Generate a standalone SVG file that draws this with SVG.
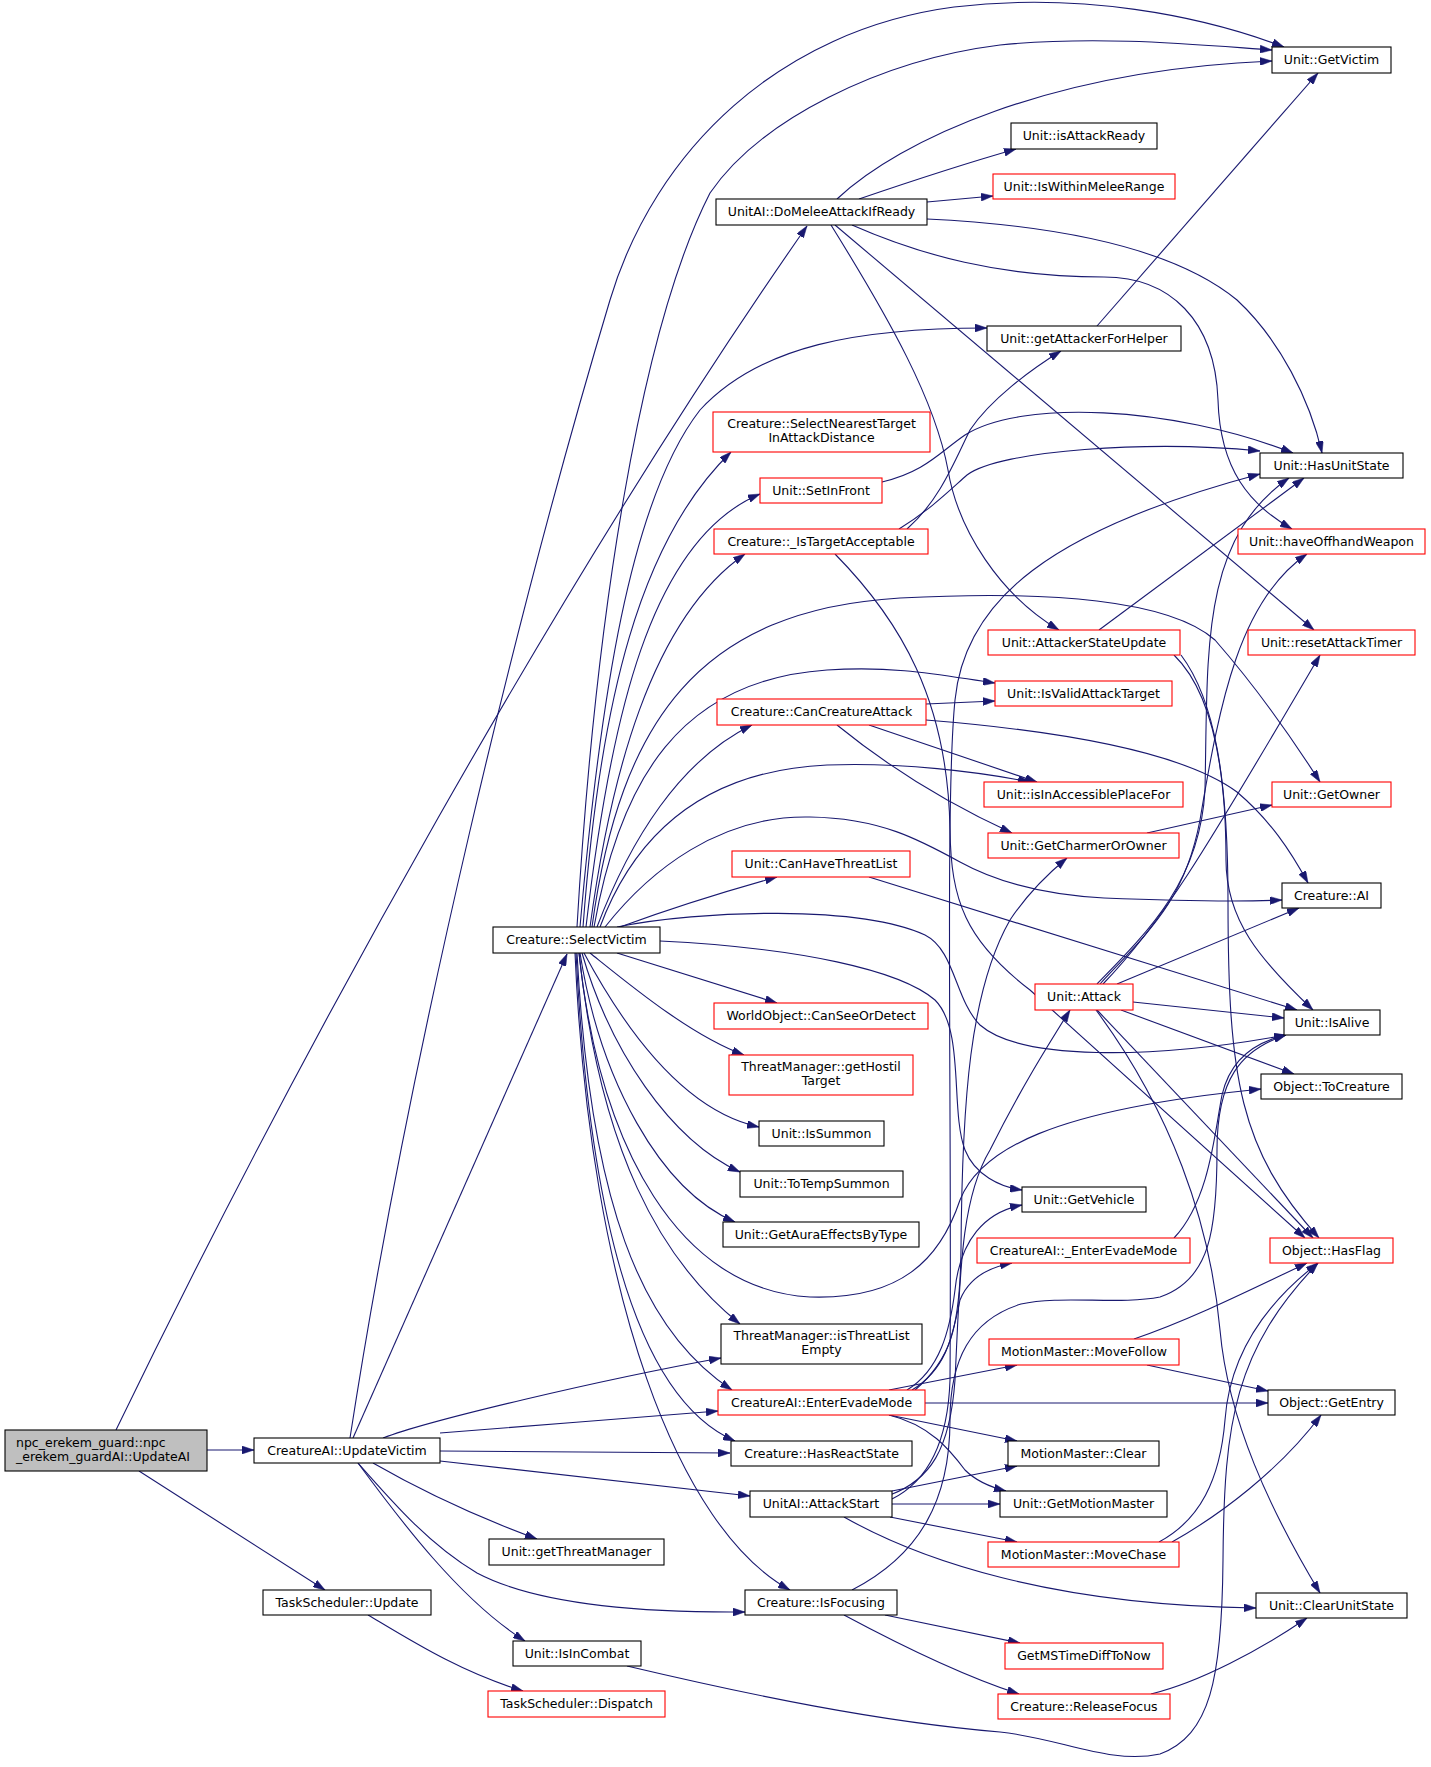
<svg xmlns="http://www.w3.org/2000/svg" width="1431" height="1767" viewBox="0 0 1431 1767">
<style>
.e{fill:none;stroke:#191970;stroke-width:1.1;marker-end:url(#ah)}
.n rect{fill:#fff;stroke:#000;stroke-width:1.1}
.r rect{stroke:#f00}
.g rect{fill:#bfbfbf}
text{font-family:"DejaVu Sans","Liberation Sans",sans-serif;font-size:12.5px;fill:#000;text-anchor:middle}
.l{text-anchor:start}
</style>
<defs>
<marker id="ah" viewBox="0 0 12 8" refX="12" refY="4" markerWidth="12" markerHeight="8" markerUnits="userSpaceOnUse" orient="auto"><path d="M0,0 L12,4 L0,8 z" fill="#191970" stroke="#191970" stroke-width="0.5"/></marker>
</defs>
<rect width="1431" height="1767" fill="#fff"/>
<g id="edges">
<path class="e" d="M207,1450 L254,1450"/>
<path class="e" d="M139,1471 L325,1590"/>
<path class="e" d="M116,1430 C300,1050 560,580 807,226"/>
<path class="e" d="M350,1438 C410,1050 520,600 610,300 C655,150 780,30 954,7 C1080,-8 1200,15 1284,47"/>
<path class="e" d="M353,1438 L567,954"/>
<path class="e" d="M383,1438 C430,1420 600,1380 721,1358"/>
<path class="e" d="M440,1433 C520,1426 640,1418 718,1411"/>
<path class="e" d="M440,1451 L730,1453"/>
<path class="e" d="M440,1461 L750,1496"/>
<path class="e" d="M373,1463 C420,1490 480,1518 537,1539"/>
<path class="e" d="M358,1463 C395,1505 430,1545 477,1573 C530,1601 620,1613 745,1612"/>
<path class="e" d="M358,1463 C400,1520 460,1600 525,1641"/>
<path class="e" d="M368,1615 C410,1640 460,1672 523,1691"/>
<path class="e" d="M837,199 C900,140 1050,70 1272,61"/>
<path class="e" d="M859,199 C900,185 960,165 1016,149"/>
<path class="e" d="M927,202 L993,196"/>
<path class="e" d="M927,219 C1050,225 1170,245 1237,300 C1280,340 1310,400 1322,453"/>
<path class="e" d="M852,225 C920,255 1000,277 1104,277 C1170,277 1215,320 1218,400 C1220,470 1250,505 1292,529"/>
<path class="e" d="M835,225 L1314,630"/>
<path class="e" d="M831,225 C890,320 935,400 948,470 C958,530 1000,595 1059,630"/>
<path class="e" d="M1097,326 L1318,73"/>
<path class="e" d="M577,927 C595,620 640,330 710,193 C760,120 880,60 1000,45 C1100,35 1200,45 1272,50"/>
<path class="e" d="M580,927 C600,700 630,500 700,410 C760,345 860,328 987,328"/>
<path class="e" d="M583,927 C600,700 640,540 731,452"/>
<path class="e" d="M586,927 C610,720 650,540 760,494"/>
<path class="e" d="M590,927 C610,780 650,620 745,554"/>
<path class="e" d="M592,927 C620,720 700,610 900,598 C1050,590 1170,600 1215,640 C1250,680 1290,735 1320,782"/>
<path class="e" d="M594,927 C620,780 680,680 827,670 C900,665 950,677 995,683"/>
<path class="e" d="M597,927 C630,840 680,760 752,725"/>
<path class="e" d="M600,927 C640,820 720,770 827,765 C900,762 980,772 1030,782"/>
<path class="e" d="M605,927 C650,870 720,815 810,817 C880,818 920,840 960,862 C1000,884 1050,895 1104,898 C1180,901 1240,902 1282,900"/>
<path class="e" d="M620,927 C680,905 730,890 777,877"/>
<path class="e" d="M617,927 C700,910 860,905 925,935 C955,950 955,1000 980,1025 C1020,1060 1150,1060 1286,1035"/>
<path class="e" d="M660,941 C800,948 900,970 935,1000 C965,1030 950,1110 965,1150 C975,1175 1000,1187 1022,1190"/>
<path class="e" d="M617,953 L777,1003"/>
<path class="e" d="M590,953 C630,985 690,1035 744,1055"/>
<path class="e" d="M584,953 C620,1020 680,1110 759,1127"/>
<path class="e" d="M582,953 C610,1050 670,1140 740,1172"/>
<path class="e" d="M580,953 C600,1080 660,1190 735,1222"/>
<path class="e" d="M579,953 C600,1150 680,1290 810,1297 C900,1300 940,1260 960,1200 C980,1150 1050,1110 1261,1089"/>
<path class="e" d="M579,953 C600,1150 660,1260 740,1324"/>
<path class="e" d="M577,953 C590,1200 640,1330 732,1390"/>
<path class="e" d="M576,953 C590,1230 640,1400 735,1441"/>
<path class="e" d="M575,953 C590,1300 680,1530 790,1590"/>
<path class="e" d="M882,482 C925,472 940,452 965,435 C1020,400 1170,405 1293,453"/>
<path class="e" d="M899,529 C930,510 950,490 967,475 C1000,450 1150,440 1260,451"/>
<path class="e" d="M907,529 C940,500 955,460 970,430 C990,400 1030,370 1061,351"/>
<path class="e" d="M835,554 C900,620 948,700 950,830 C951,900 965,940 1030,990 L1305,1238"/>
<path class="e" d="M1099,630 L1304,478"/>
<path class="e" d="M1174,655 C1210,690 1226,760 1226,860 C1226,920 1260,960 1313,1010"/>
<path class="e" d="M1181,655 C1215,700 1228,780 1228,900 C1228,1080 1240,1150 1319,1238"/>
<path class="e" d="M926,704 L995,701"/>
<path class="e" d="M869,725 L1037,782"/>
<path class="e" d="M837,725 C880,760 940,800 1012,833"/>
<path class="e" d="M926,720 C1050,730 1180,750 1237,792 C1270,820 1290,850 1308,883"/>
<path class="e" d="M1147,833 L1272,805"/>
<path class="e" d="M869,877 L1297,1010"/>
<path class="e" d="M1097,984 C1150,930 1200,880 1205,790 C1208,650 1200,540 1289,478"/>
<path class="e" d="M1100,984 C1150,930 1185,900 1200,820 C1220,700 1240,600 1307,554"/>
<path class="e" d="M1103,984 C1160,925 1200,860 1320,655"/>
<path class="e" d="M1117,984 L1299,908"/>
<path class="e" d="M1133,1002 L1284,1018"/>
<path class="e" d="M1121,1010 L1294,1074"/>
<path class="e" d="M1097,1010 L1313,1238"/>
<path class="e" d="M1096,1010 C1170,1110 1210,1220 1220,1330 C1228,1420 1270,1510 1320,1593"/>
<path class="e" d="M890,1495 C930,1480 950,1450 955,1380 C960,1280 960,1200 990,1150 C1020,1090 1045,1050 1070,1010"/>
<path class="e" d="M892,1499 C930,1480 948,1440 950,1380 C952,1100 945,800 955,700 C965,600 1050,530 1260,474"/>
<path class="e" d="M892,1491 L1017,1466"/>
<path class="e" d="M892,1504 L1000,1504"/>
<path class="e" d="M890,1517 L1017,1542"/>
<path class="e" d="M844,1517 C920,1560 1050,1605 1256,1608"/>
<path class="e" d="M925,1403 L1268,1403"/>
<path class="e" d="M889,1390 L1017,1365"/>
<path class="e" d="M889,1415 L1017,1441"/>
<path class="e" d="M889,1415 C930,1425 950,1450 965,1470 C975,1480 990,1487 1006,1491"/>
<path class="e" d="M907,1390 C940,1370 950,1330 955,1290 C960,1240 985,1212 1022,1205"/>
<path class="e" d="M912,1390 C945,1370 952,1340 960,1300 C968,1280 985,1268 1012,1263"/>
<path class="e" d="M915,1390 C950,1360 960,1330 961,1250 C962,1100 970,990 1010,920 C1030,890 1050,872 1067,858"/>
<path class="e" d="M1174,1238 C1210,1200 1215,1130 1222,1095 C1230,1060 1255,1042 1286,1035"/>
<path class="e" d="M852,1590 C920,1555 950,1500 950,1420 C950,1360 970,1320 1021,1304 C1060,1295 1120,1305 1160,1297 C1210,1280 1217,1230 1217,1150 C1217,1080 1240,1050 1286,1035"/>
<path class="e" d="M885,1615 L1020,1643"/>
<path class="e" d="M844,1615 C900,1645 960,1675 1019,1694"/>
<path class="e" d="M1151,1694 C1200,1682 1260,1650 1307,1618"/>
<path class="e" d="M1147,1365 L1268,1391"/>
<path class="e" d="M1134,1339 C1190,1320 1250,1290 1307,1263"/>
<path class="e" d="M1172,1542 C1220,1515 1280,1470 1321,1415"/>
<path class="e" d="M1159,1542 C1200,1520 1220,1480 1225,1420 C1230,1350 1270,1300 1318,1263"/>
<path class="e" d="M627,1666 C750,1695 880,1722 1000,1732 C1060,1738 1110,1765 1160,1754 C1210,1735 1222,1680 1223,1560 C1224,1420 1235,1350 1318,1263"/>
</g>
<g id="n_updateai" class="n g"><rect x="5" y="1430" width="202" height="41"/><text class="l" x="16" y="1447">npc_erekem_guard::npc</text><text class="l" x="16" y="1461">_erekem_guardAI::UpdateAI</text></g>
<g id="n_updatevictim" class="n"><rect x="254" y="1438" width="186" height="25"/><text x="347" y="1455">CreatureAI::UpdateVictim</text></g>
<g id="n_tsupdate" class="n"><rect x="263" y="1590" width="168" height="25"/><text x="347" y="1607">TaskScheduler::Update</text></g>
<g id="n_domelee" class="n"><rect x="716" y="199" width="211" height="26"/><text x="821.5" y="216">UnitAI::DoMeleeAttackIfReady</text></g>
<g id="n_selectvictim" class="n"><rect x="493" y="927" width="167" height="26"/><text x="576.5" y="944">Creature::SelectVictim</text></g>
<g id="n_threatempty" class="n"><rect x="721" y="1324" width="201" height="40"/><text x="821.5" y="1340">ThreatManager::isThreatList</text><text x="821.5" y="1354">Empty</text></g>
<g id="n_enterevade" class="n r"><rect x="718" y="1390" width="207" height="25"/><text x="821.5" y="1407">CreatureAI::EnterEvadeMode</text></g>
<g id="n_hasreact" class="n"><rect x="731" y="1441" width="181" height="25"/><text x="821.5" y="1458">Creature::HasReactState</text></g>
<g id="n_attackstart" class="n"><rect x="750" y="1491" width="142" height="26"/><text x="821" y="1508">UnitAI::AttackStart</text></g>
<g id="n_getthreatmgr" class="n"><rect x="489" y="1539" width="175" height="26"/><text x="576.5" y="1556">Unit::getThreatManager</text></g>
<g id="n_isfocusing" class="n"><rect x="745" y="1590" width="152" height="25"/><text x="821" y="1607">Creature::IsFocusing</text></g>
<g id="n_isincombat" class="n"><rect x="513" y="1641" width="128" height="25"/><text x="577" y="1658">Unit::IsInCombat</text></g>
<g id="n_dispatch" class="n r"><rect x="488" y="1691" width="177" height="26"/><text x="576.5" y="1708">TaskScheduler::Dispatch</text></g>
<g id="n_getvictim" class="n"><rect x="1272" y="47" width="119" height="26"/><text x="1331.5" y="64">Unit::GetVictim</text></g>
<g id="n_isattackready" class="n"><rect x="1011" y="123" width="146" height="26"/><text x="1084" y="140">Unit::isAttackReady</text></g>
<g id="n_withinmelee" class="n r"><rect x="993" y="174" width="182" height="25"/><text x="1084" y="191">Unit::IsWithinMeleeRange</text></g>
<g id="n_attackerforhelper" class="n"><rect x="987" y="326" width="194" height="25"/><text x="1084" y="343">Unit::getAttackerForHelper</text></g>
<g id="n_selectnearest" class="n r"><rect x="713" y="412" width="217" height="40"/><text x="821.5" y="428">Creature::SelectNearestTarget</text><text x="821.5" y="442">InAttackDistance</text></g>
<g id="n_setinfront" class="n r"><rect x="760" y="478" width="122" height="25"/><text x="821" y="495">Unit::SetInFront</text></g>
<g id="n_istargetacc" class="n r"><rect x="714" y="529" width="214" height="25"/><text x="821" y="546">Creature::_IsTargetAcceptable</text></g>
<g id="n_hasunitstate" class="n"><rect x="1260" y="453" width="143" height="25"/><text x="1331.5" y="470">Unit::HasUnitState</text></g>
<g id="n_offhand" class="n r"><rect x="1238" y="529" width="187" height="25"/><text x="1331.5" y="546">Unit::haveOffhandWeapon</text></g>
<g id="n_attackerstate" class="n r"><rect x="988" y="630" width="192" height="25"/><text x="1084" y="647">Unit::AttackerStateUpdate</text></g>
<g id="n_resettimer" class="n r"><rect x="1248" y="630" width="167" height="25"/><text x="1331.5" y="647">Unit::resetAttackTimer</text></g>
<g id="n_cancreatureattack" class="n r"><rect x="717" y="699" width="209" height="26"/><text x="821.5" y="716">Creature::CanCreatureAttack</text></g>
<g id="n_validtarget" class="n r"><rect x="995" y="681" width="177" height="25"/><text x="1083.5" y="698">Unit::IsValidAttackTarget</text></g>
<g id="n_accessible" class="n r"><rect x="984" y="782" width="199" height="25"/><text x="1083.5" y="799">Unit::isInAccessiblePlaceFor</text></g>
<g id="n_getowner" class="n r"><rect x="1272" y="782" width="119" height="25"/><text x="1331.5" y="799">Unit::GetOwner</text></g>
<g id="n_charmer" class="n r"><rect x="988" y="833" width="191" height="25"/><text x="1083.5" y="850">Unit::GetCharmerOrOwner</text></g>
<g id="n_canthreat" class="n r"><rect x="732" y="851" width="178" height="26"/><text x="821" y="868">Unit::CanHaveThreatList</text></g>
<g id="n_ai" class="n"><rect x="1282" y="883" width="99" height="25"/><text x="1331.5" y="900">Creature::AI</text></g>
<g id="n_attack" class="n r"><rect x="1035" y="984" width="98" height="26"/><text x="1084" y="1001">Unit::Attack</text></g>
<g id="n_isalive" class="n"><rect x="1284" y="1010" width="96" height="25"/><text x="1332" y="1027">Unit::IsAlive</text></g>
<g id="n_canseeordetect" class="n r"><rect x="714" y="1003" width="214" height="26"/><text x="821" y="1020">WorldObject::CanSeeOrDetect</text></g>
<g id="n_hostiltarget" class="n r"><rect x="729" y="1055" width="184" height="40"/><text x="821" y="1071">ThreatManager::getHostil</text><text x="821" y="1085">Target</text></g>
<g id="n_tocreature" class="n"><rect x="1261" y="1074" width="141" height="25"/><text x="1331.5" y="1091">Object::ToCreature</text></g>
<g id="n_issummon" class="n"><rect x="759" y="1121" width="125" height="25"/><text x="821.5" y="1138">Unit::IsSummon</text></g>
<g id="n_totempsummon" class="n"><rect x="740" y="1171" width="163" height="26"/><text x="821.5" y="1188">Unit::ToTempSummon</text></g>
<g id="n_getvehicle" class="n"><rect x="1022" y="1187" width="124" height="25"/><text x="1084" y="1204">Unit::GetVehicle</text></g>
<g id="n_auraeffects" class="n"><rect x="723" y="1222" width="196" height="25"/><text x="821" y="1239">Unit::GetAuraEffectsByType</text></g>
<g id="n_enterevade2" class="n r"><rect x="977" y="1238" width="213" height="25"/><text x="1083.5" y="1255">CreatureAI::_EnterEvadeMode</text></g>
<g id="n_hasflag" class="n r"><rect x="1270" y="1238" width="123" height="25"/><text x="1331.5" y="1255">Object::HasFlag</text></g>
<g id="n_movefollow" class="n r"><rect x="989" y="1339" width="190" height="26"/><text x="1084" y="1356">MotionMaster::MoveFollow</text></g>
<g id="n_getentry" class="n"><rect x="1268" y="1390" width="127" height="25"/><text x="1331.5" y="1407">Object::GetEntry</text></g>
<g id="n_clear" class="n"><rect x="1008" y="1441" width="151" height="25"/><text x="1083.5" y="1458">MotionMaster::Clear</text></g>
<g id="n_motionmaster" class="n"><rect x="1000" y="1491" width="167" height="26"/><text x="1083.5" y="1508">Unit::GetMotionMaster</text></g>
<g id="n_movechase" class="n r"><rect x="988" y="1542" width="191" height="25"/><text x="1083.5" y="1559">MotionMaster::MoveChase</text></g>
<g id="n_clearunitstate" class="n"><rect x="1256" y="1593" width="151" height="25"/><text x="1331.5" y="1610">Unit::ClearUnitState</text></g>
<g id="n_mstimediff" class="n r"><rect x="1005" y="1643" width="158" height="26"/><text x="1084" y="1660">GetMSTimeDiffToNow</text></g>
<g id="n_releasefocus" class="n r"><rect x="998" y="1694" width="172" height="25"/><text x="1084" y="1711">Creature::ReleaseFocus</text></g>
</svg>
